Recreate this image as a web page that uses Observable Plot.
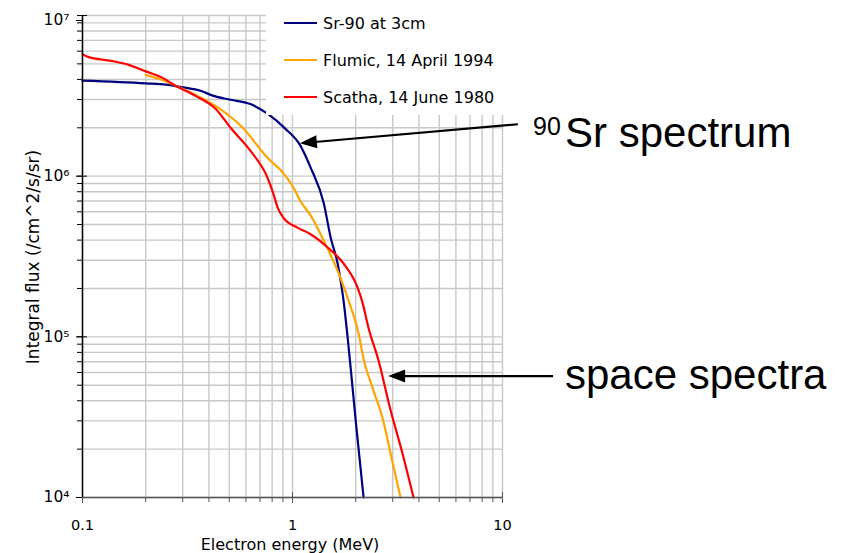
<!DOCTYPE html>
<html>
<head>
<meta charset="utf-8">
<script src="https://cdn.jsdelivr.net/npm/d3@7"></script>
<script src="https://cdn.jsdelivr.net/npm/@observablehq/plot@0.6"></script>
<style>
  body { margin: 0; background: #fff; }
  #chart { width: 845px; height: 553px; }
</style>
</head>
<body>
<div id="chart"></div>
<script>
// ---- data ----
const seriesNames = ["Sr-90 at 3cm", "Flumic, 14 April 1994", "Scatha, 14 June 1980"];
const seriesColors = ["#000080", "#ffa500", "#ff0000"];

const srEnergy = [0.1, 0.2, 0.25, 0.3, 0.365, 0.42, 0.5, 0.63, 0.76, 0.926, 1.09, 1.22, 1.41, 1.52, 1.64, 1.75, 1.89, 2.0, 2.18];
const srFlux   = [3.93e6, 3.78e6, 3.71e6, 3.57e6, 3.4e6, 3.16e6, 3.0e6, 2.81e6, 2.45e6, 1.97e6, 1.55e6, 1.13e6, 6.75e5, 4.14e5, 2.86e5, 1.68e5, 6.5e4, 3.0e4, 1.0e4];

const flumicEnergy = [0.2, 0.238, 0.277, 0.345, 0.43, 0.58, 0.76, 0.906, 1.01, 1.09, 1.22, 1.41, 1.69, 1.85, 2.06, 2.18, 2.43, 2.68, 2.93, 3.27];
const flumicFlux   = [4.27e6, 3.98e6, 3.66e6, 3.21e6, 2.74e6, 2.0e6, 1.3e6, 1.04e6, 8.5e5, 7.0e5, 5.7e5, 3.96e5, 2.34e5, 1.68e5, 1.06e5, 7.3e4, 4.63e4, 3.15e4, 1.88e4, 1.0e4];

const scathaEnergy = [0.1, 0.106, 0.137, 0.166, 0.2, 0.238, 0.277, 0.345, 0.43, 0.507, 0.63, 0.76, 0.81, 0.849, 0.906, 1.056, 1.22, 1.47, 1.75, 2.04, 2.15, 2.3, 2.57, 2.93, 3.34, 3.77];
const scathaFlux   = [5.75e6, 5.53e6, 5.22e6, 4.93e6, 4.49e6, 4.12e6, 3.66e6, 3.16e6, 2.63e6, 2.0e6, 1.44e6, 9.8e5, 7.8e5, 6.4e5, 5.5e5, 4.78e5, 4.35e5, 3.6e5, 2.86e5, 2.03e5, 1.65e5, 1.14e5, 7.1e4, 3.5e4, 1.88e4, 1.0e4];

const xMajorTicks = [0.1, 1, 10];
const xMajorLabels = ["0.1", "1", "10"];
const xGridTicks = [0.1, 0.2, 0.3, 0.4, 0.5, 0.6, 0.7, 0.8, 0.9, 1, 2, 3, 4, 5, 6, 7, 8, 9, 10];
const yMajorTicks = [1e4, 1e5, 1e6, 1e7];
const yMajorLabels = ["10\u2074", "10\u2075", "10\u2076", "10\u2077"];
const yGridTicks = [1e4, 2e4, 3e4, 4e4, 5e4, 6e4, 7e4, 8e4, 9e4,
                    1e5, 2e5, 3e5, 4e5, 5e5, 6e5, 7e5, 8e5, 9e5,
                    1e6, 2e6, 3e6, 4e6, 5e6, 6e6, 7e6, 8e6, 9e6, 1e7];

const xAxisTitle = "Electron energy (MeV)";
const yAxisTitle = "Integral flux (/cm^2/s/sr)";

// annotation arrows (data coordinates)
const annotationSup = ["90", ""];
const annotationText = ["Sr spectrum", "space spectra"];
const arrowTipEnergy  = [1.09, 2.87];
const arrowTipFlux    = [1.59e6, 5.66e4];
const arrowTailEnergy = [11.9, 17.5];
const arrowTailFlux   = [2.09e6, 5.66e4];

// ---- build table ----
const rows = [
  ...srEnergy.map((e, i) => ({series: seriesNames[0], energy: e, flux: srFlux[i]})),
  ...flumicEnergy.map((e, i) => ({series: seriesNames[1], energy: e, flux: flumicFlux[i]})),
  ...scathaEnergy.map((e, i) => ({series: seriesNames[2], energy: e, flux: scathaFlux[i]}))
];

const FONT = "DejaVu Sans";
const gridColor = "#c8c8c8";

const plot = Plot.plot({
  width: 845,
  height: 553,
  marginLeft: 82,
  marginRight: 343,
  marginTop: 15,
  marginBottom: 56,
  style: {fontFamily: FONT, fontSize: "14px", background: "white", overflow: "visible", color: "black"},
  x: {type: "log", domain: [0.1, 10]},
  y: {type: "log", domain: [1e4, 1e7]},
  color: {domain: seriesNames, range: seriesColors},
  marks: [
    Plot.ruleX(xGridTicks, {stroke: gridColor, strokeWidth: 1.4}),
    Plot.ruleY(yGridTicks, {stroke: gridColor, strokeWidth: 1.4}),
    Plot.line(rows, {x: "energy", y: "flux", z: "series", stroke: "series", strokeWidth: 2.2, curve: "monotone-x"}),
    // minor ticks
    Plot.axisX(xGridTicks, {tickSize: 5, tickFormat: () => "", label: null, stroke: "#555"}),
    Plot.axisY(yGridTicks, {tickSize: 5, tickFormat: () => "", label: null, stroke: "black"}),
    // major ticks inward part
    Plot.axisX(xMajorTicks, {tickSize: -5, tickFormat: () => "", label: null, stroke: "#555"}),
    Plot.axisY(yMajorTicks, {tickSize: -5, tickFormat: () => "", label: null, stroke: "black"}),
    // major ticks + labels
    Plot.axisX(xMajorTicks, {tickSize: 6, tickPadding: 16, label: null, stroke: "#555", fill: "black",
      fontSize: 14.5, tickFormat: d => xMajorLabels[xMajorTicks.indexOf(d)]}),
    Plot.axisY(yMajorTicks.slice(0, 3), {tickSize: 6, tickPadding: 7, label: null, stroke: "black", fill: "black",
      fontSize: 15.5, tickFormat: d => yMajorLabels[yMajorTicks.indexOf(d)]}),
    Plot.axisY(yMajorTicks.slice(3), {tickSize: 6, tickPadding: 7, label: null, stroke: "black", fill: "black",
      fontSize: 15.5, dy: 5, tickFormat: d => yMajorLabels[yMajorTicks.indexOf(d)]}),
    // axis lines
    Plot.ruleY([1e4], {stroke: "#555", strokeWidth: 1.5}),
    Plot.ruleX([0.1], {stroke: "black", strokeWidth: 1.5})
  ]
});

document.getElementById("chart").appendChild(plot);

// ---- overlays drawn through the plot's scales ----
const svg = d3.select(plot);
const sx = plot.scale("x"), sy = plot.scale("y");

// legend box (white, over the grid)
const leg = svg.append("g").attr("font-family", FONT).attr("font-size", 16).attr("text-anchor", "start");
leg.append("rect").attr("x", 266).attr("y", 0).attr("width", 250).attr("height", 115).attr("fill", "white");
seriesNames.forEach((name, i) => {
  const y = 23 + i * 37;
  leg.append("line").attr("x1", 284).attr("x2", 317).attr("y1", y).attr("y2", y)
    .attr("stroke", seriesColors[i]).attr("stroke-width", 2.2);
  leg.append("text").attr("x", 323).attr("y", y).attr("dy", "0.35em").attr("fill", "black").text(name);
});

// axis titles
svg.append("text").attr("x", 290).attr("y", 550).attr("text-anchor", "middle")
  .attr("font-family", FONT).attr("font-size", 16).attr("fill", "black").text(xAxisTitle);
svg.append("text").attr("transform", "translate(39,257) rotate(-90)").attr("text-anchor", "middle")
  .attr("font-family", FONT).attr("font-size", 17).attr("fill", "black").text(yAxisTitle);

// arrows with filled heads
arrowTipEnergy.forEach((e, i) => {
  const tx = sx.apply(e), ty = sy.apply(arrowTipFlux[i]);
  const ax = sx.apply(arrowTailEnergy[i]), ay = sy.apply(arrowTailFlux[i]);
  const len = Math.hypot(tx - ax, ty - ay);
  const ux = (tx - ax) / len, uy = (ty - ay) / len;
  const hl = 17, hw = 6.5;
  const bx = tx - ux * hl, by = ty - uy * hl;
  svg.append("line").attr("x1", ax).attr("y1", ay).attr("x2", bx + ux * 2).attr("y2", by + uy * 2)
    .attr("stroke", "black").attr("stroke-width", 2.2);
  svg.append("polygon")
    .attr("points", [[tx, ty], [bx - uy * hw, by + ux * hw], [bx + uy * hw, by - ux * hw]].map(p => p.join(",")).join(" "))
    .attr("fill", "black");
});

// annotation texts
const ann = svg.append("g").attr("font-family", "Liberation Sans").attr("fill", "black").attr("text-anchor", "start");
const t1 = ann.append("text").attr("y", 147);
t1.append("tspan").attr("x", 533).attr("font-size", 25).attr("dy", -12).text(annotationSup[0]);
t1.append("tspan").attr("x", 565).attr("font-size", 42).attr("dy", 12).text(annotationText[0]);
ann.append("text").attr("x", 565).attr("y", 389).attr("font-size", 42).text(annotationText[1]);
</script>
</body>
</html>
